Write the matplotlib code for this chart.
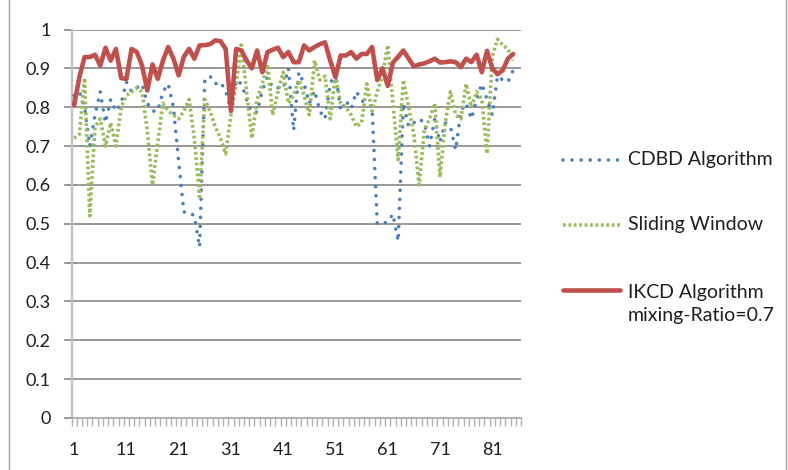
import matplotlib
matplotlib.use("Agg")
import matplotlib.pyplot as plt
from matplotlib.lines import Line2D

plt.rcParams['font.family'] = ['Lato', 'DejaVu Sans']

# Category axis 1..86, tick labels every 10 categories
categories = list(range(1, 87))
tick_labels = ["1", "11", "21", "31", "41", "51", "61", "71", "81"]
y_ticks = [0, 0.1, 0.2, 0.3, 0.4, 0.5, 0.6, 0.7, 0.8, 0.9, 1.0]

cdbd = [0.83, 0.84, 0.80, 0.70, 0.78, 0.84, 0.76, 0.82, 0.79, 0.81,
        0.865, 0.84, 0.85, 0.86, 0.81, 0.79, 0.79, 0.84, 0.86, 0.80,
        0.66, 0.53, 0.53, 0.52, 0.44, 0.87, 0.88, 0.86, 0.865, 0.843,
        0.79, 0.87, 0.86, 0.82, 0.787, 0.787, 0.843, 0.877, 0.85, 0.85,
        0.848, 0.90, 0.74, 0.89, 0.86, 0.81, 0.843, 0.79, 0.77, 0.86,
        0.89, 0.79, 0.817, 0.796, 0.84, 0.817, 0.81, 0.80, 0.50, 0.50,
        0.505, 0.525, 0.455, 0.81, 0.75, 0.76, 0.77, 0.76, 0.70, 0.77,
        0.71, 0.76, 0.75, 0.69, 0.79, 0.81, 0.77, 0.82, 0.86, 0.82,
        0.78, 0.88, 0.87, 0.865, 0.895]

sliding = [0.72, 0.73, 0.875, 0.52, 0.75, 0.77, 0.70, 0.76, 0.70, 0.80,
           0.83, 0.84, 0.85, 0.84, 0.74, 0.60, 0.71, 0.81, 0.79, 0.78,
           0.77, 0.79, 0.82, 0.72, 0.57, 0.82, 0.79, 0.75, 0.72, 0.68,
           0.78, 0.86, 0.96, 0.84, 0.72, 0.82, 0.86, 0.91, 0.78, 0.84,
           0.89, 0.81, 0.83, 0.87, 0.83, 0.78, 0.92, 0.87, 0.88, 0.77,
           0.88, 0.81, 0.80, 0.78, 0.75, 0.76, 0.86, 0.79, 0.84, 0.88,
           0.96, 0.81, 0.665, 0.87, 0.80, 0.73, 0.60, 0.74, 0.77, 0.81,
           0.62, 0.76, 0.84, 0.78, 0.77, 0.86, 0.80, 0.84, 0.82, 0.68,
           0.93, 0.975, 0.96, 0.95, 0.92]

ikcd = [0.805, 0.877, 0.929, 0.929, 0.935, 0.907, 0.953, 0.920, 0.950, 0.875,
        0.873, 0.950, 0.942, 0.907, 0.843, 0.910, 0.873, 0.920, 0.955, 0.925,
        0.882, 0.930, 0.950, 0.925, 0.959, 0.960, 0.962, 0.972, 0.970, 0.950,
        0.790, 0.950, 0.946, 0.920, 0.900, 0.946, 0.890, 0.942, 0.948, 0.953,
        0.929, 0.942, 0.916, 0.916, 0.959, 0.946, 0.955, 0.962, 0.967, 0.920,
        0.877, 0.933, 0.933, 0.942, 0.925, 0.937, 0.937, 0.955, 0.870, 0.900,
        0.855, 0.915, 0.930, 0.946, 0.925, 0.905, 0.910, 0.913, 0.918, 0.925,
        0.915, 0.916, 0.918, 0.916, 0.903, 0.925, 0.916, 0.935, 0.890, 0.945,
        0.900, 0.885, 0.895, 0.925, 0.937]

labels = ["CDBD Algorithm", "Sliding Window", "IKCD Algorithm\nmixing-Ratio=0.7"]
BLUE, GREEN, RED = "#4A7EBB", "#9BBB59", "#C0504D"
GRID = "#878787"
TEXT = "#1E1E1E"

W, H = 788, 470
fig = plt.figure(figsize=(W / 100, H / 100), dpi=100)
ax = fig.add_axes([71.5 / W, (H - 418) / H, 449.5 / W, 388.5 / H])

blue_style = dict(color=BLUE, lw=2.6, linestyle=(0, (0.01, 2.5)),
                  dash_capstyle='round', solid_joinstyle='round')
green_style = dict(color=GREEN, lw=2.6, linestyle=(0, (0.75, 0.75)),
                   dash_capstyle='butt')
red_style = dict(color=RED, lw=3.3, solid_joinstyle='round',
                 solid_capstyle='round')

xs = categories[:len(ikcd)]
ax.plot(xs, cdbd, **blue_style, zorder=3)
ax.plot(xs, sliding, **green_style, zorder=3)
ax.plot(xs, ikcd, **red_style, zorder=4)

ax.set_xlim(0.5, len(categories) + 0.5)
ax.set_ylim(0, 1)

# horizontal gridlines
ax.set_yticks(y_ticks)
ax.set_yticklabels([f"{v:g}" for v in y_ticks])
for v in y_ticks[1:]:
    ax.axhline(v, color=GRID, lw=1.2, zorder=1)

# category ticks between categories, labels every 10th category
ax.set_xticks([c - 0.5 for c in categories] + [categories[-1] + 0.5], minor=True)
ax.set_xticks([int(t) for t in tick_labels])
ax.set_xticklabels(tick_labels)
ax.tick_params(axis='x', which='major', length=0, pad=17, labelsize=13,
               labelcolor=TEXT)
ax.tick_params(axis='x', which='minor', length=5.5, width=1.0, color="#B0B0B0")
ax.tick_params(axis='y', length=6, width=1.2, color=GRID, pad=9,
               labelsize=13, labelcolor=TEXT)

for side in ('top', 'right'):
    ax.spines[side].set_visible(False)
ax.spines['left'].set_color("#BFBFBF")
ax.spines['left'].set_linewidth(1.6)
ax.spines['bottom'].set_color("#A6A6A6")
ax.spines['bottom'].set_linewidth(1.2)

# legend keys drawn beside the plot
def fx(px):
    return px / W

def fy(py):
    return (H - py) / H

legend_rows = [(160, 160, blue_style), (225, 225, green_style), (290, 304, red_style)]
for (py_key, py_text, style), text in zip(legend_rows, labels):
    fig.add_artist(Line2D([fx(563), fx(620)], [fy(py_key), fy(py_key)], **style))
    fig.text(fx(628), fy(py_text), text, fontsize=14, color=TEXT,
             va='center', linespacing=1.45, transform=fig.transFigure)

# chart frame lines
fig.add_artist(Line2D([fx(8.5), fx(8.5)], [0, 1], color="#A0A0A0", lw=1.0))
fig.add_artist(Line2D([fx(786), fx(786)], [0, 1], color="#A0A0A0", lw=1.0))

fig.savefig("out.png", dpi=100, facecolor="white")
